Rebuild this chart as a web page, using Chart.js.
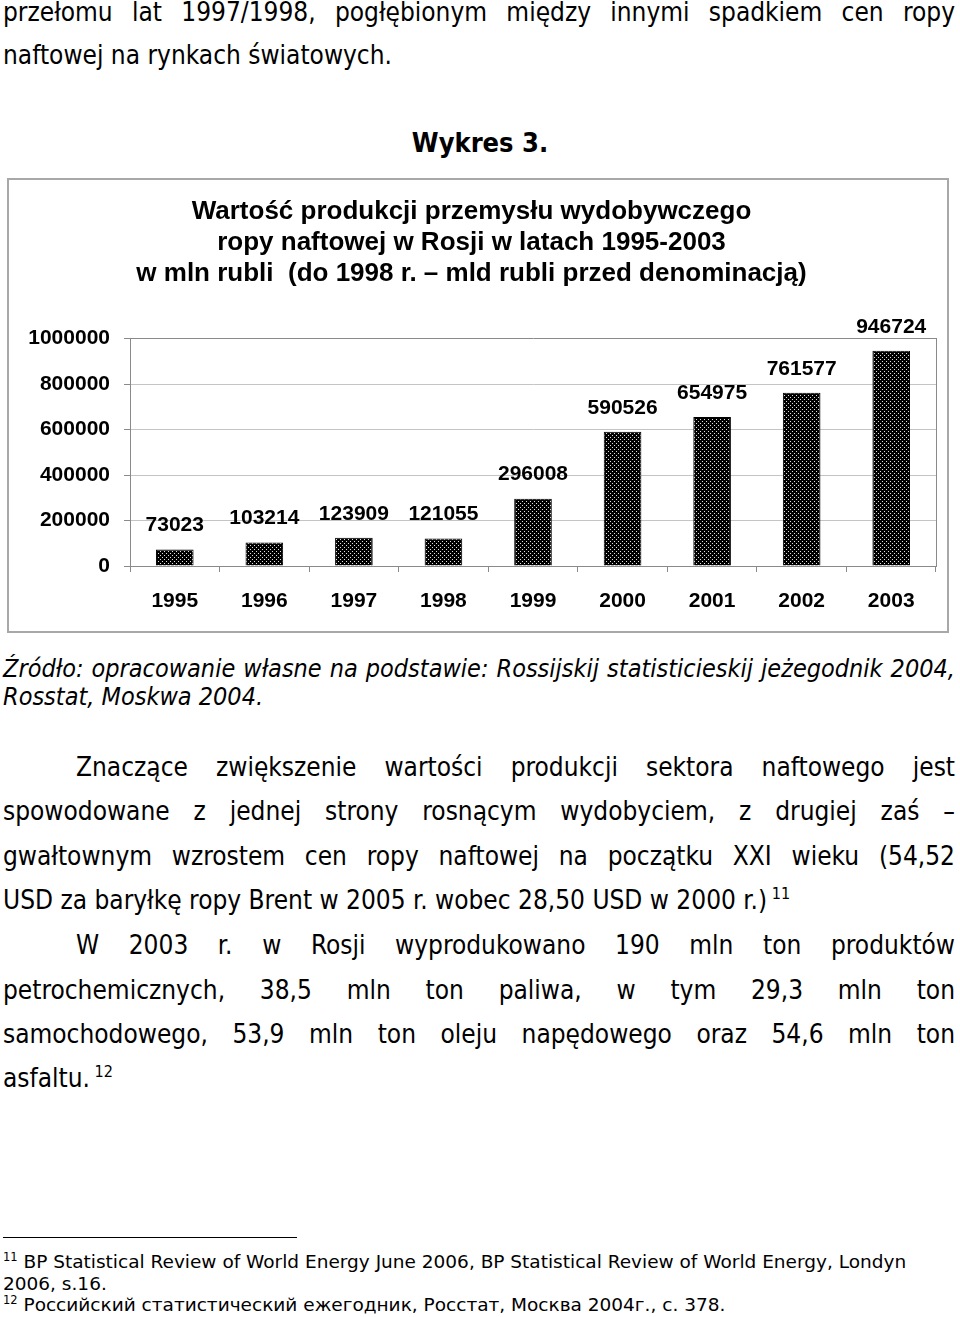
<!DOCTYPE html>
<html><head><meta charset="utf-8">
<script src="https://cdn.jsdelivr.net/npm/chart.js@4"></script>
<style>
html,body{margin:0;padding:0;background:#fff}
body{width:960px;height:1317px;position:relative;overflow:hidden;font-family:'DejaVu Sans Condensed','DejaVu Sans',sans-serif;color:#000}
.l{position:absolute;left:3px;width:952px;white-space:nowrap;font-size:26px;line-height:30px}
.j{text-align:justify;text-align-last:justify;white-space:normal}
.src{font-style:italic;font-size:25px;line-height:30px}
.fn{font-family:'DejaVu Sans',sans-serif;font-size:18.5px;line-height:22px}
sup{font-size:0.62em;vertical-align:0;position:relative;top:-0.6em}
#frame{position:absolute;left:7px;top:178px;width:942px;height:455px;border:2px solid #a8a8a8;box-sizing:border-box}
#cv{position:absolute;left:7px;top:178px}
#rule{position:absolute;left:3px;top:1237px;width:294px;height:0;border-top:1.5px solid #000}
</style>
</head><body>
<div class="l j" style="top:-3px">przełomu lat 1997/1998, pogłębionym między innymi spadkiem cen ropy</div>
<div class="l" style="top:40px">naftowej na rynkach światowych.</div>
<div class="l" style="top:128px;text-align:center;font-weight:bold;left:0;width:960px;font-size:27px">Wykres 3.</div>
<div id="frame"></div>
<canvas id="cv" width="942" height="455"></canvas>
<div class="l src j" style="top:654px">Źródło: opracowanie własne na podstawie: Rossijskij statisticieskij jeżegodnik 2004,</div>
<div class="l src" style="top:682px">Rosstat, Moskwa 2004.</div>
<div class="l j" style="top:752px;left:76px;width:879px">Znaczące zwiększenie wartości produkcji sektora naftowego jest</div>
<div class="l j" style="top:796px">spowodowane z jednej strony rosnącym wydobyciem, z drugiej zaś –</div>
<div class="l j" style="top:841px">gwałtownym wzrostem cen ropy naftowej na początku XXI wieku (54,52</div>
<div class="l" style="top:885px">USD za baryłkę ropy Brent w 2005 r. wobec 28,50 USD w 2000 r.)<sup> 11</sup></div>
<div class="l j" style="top:930px;left:76px;width:879px">W 2003 r. w Rosji wyprodukowano 190 mln ton produktów</div>
<div class="l j" style="top:975px">petrochemicznych, 38,5 mln ton paliwa, w tym 29,3 mln ton</div>
<div class="l j" style="top:1019px">samochodowego, 53,9 mln ton oleju napędowego oraz 54,6 mln ton</div>
<div class="l" style="top:1063px">asfaltu.<sup> 12</sup></div>
<div id="rule"></div>
<div class="l fn" style="top:1251px"><sup>11</sup> BP Statistical Review of World Energy June 2006, BP Statistical Review of World Energy, Londyn</div>
<div class="l fn" style="top:1273px">2006, s.16.</div>
<div class="l fn" style="top:1294px"><sup>12</sup> Российский статистический ежегодник, Росстат, Москва 2004г., с. 378.</div>
<script>
const categories = ['1995','1996','1997','1998','1999','2000','2001','2002','2003'];
const values = [73023, 103214, 123909, 121055, 296008, 590526, 654975, 761577, 946724];
const yTicks = [0, 200000, 400000, 600000, 800000, 1000000];
const titleLines = [
  'Wartość produkcji przemysłu wydobywczego',
  'ropy naftowej w Rosji w latach 1995-2003',
  'w mln rubli  (do 1998 r. – mld rubli przed denominacją)'
];

const canvas = document.getElementById('cv');
const ctx = canvas.getContext('2d');
const pc = document.createElement('canvas');
pc.width = 4; pc.height = 4;
const px = pc.getContext('2d');
px.fillStyle = '#000'; px.fillRect(0,0,4,4);
px.fillStyle = '#e0e0e0'; px.fillRect(1,1,1,1); px.fillRect(3,3,1,1);
const pattern = ctx.createPattern(pc, 'repeat');

const AXIS = '#8a8a8a';
const GRID = '#c4c4c4';
const FONT = "'Liberation Sans', Arial, sans-serif";

const valueLabels = {
  id: 'valueLabels',
  afterDatasetsDraw(chart) {
    const c = chart.ctx;
    const meta = chart.getDatasetMeta(0);
    c.save();
    c.font = 'bold 21px ' + FONT;
    c.fillStyle = '#000';
    c.textAlign = 'center';
    c.textBaseline = 'middle';
    meta.data.forEach((bar, i) => {
      c.fillText(String(chart.data.datasets[0].data[i]), bar.x, bar.y - 24);
    });
    c.restore();
  }
};

new Chart(ctx, {
  type: 'bar',
  data: {
    labels: categories,
    datasets: [{
      data: values,
      backgroundColor: pattern,
      borderColor: '#000',
      borderWidth: 1,
      categoryPercentage: 1,
      barPercentage: 0.42
    }]
  },
  options: {
    responsive: false,
    animation: false,
    devicePixelRatio: 1,
    layout: { padding: { left: 0, right: 13, top: 0, bottom: 0 } },
    plugins: {
      legend: { display: false },
      tooltip: { enabled: false },
      title: {
        display: true,
        text: titleLines,
        color: '#000',
        font: { family: FONT, size: 26, weight: 'bold', lineHeight: 1.2 },
        padding: { top: 18, bottom: 49 }
      }
    },
    scales: {
      x: {
        grid: { drawOnChartArea: false, drawTicks: true, tickLength: 6, color: AXIS, offset: true },
        border: { color: AXIS, width: 1 },
        ticks: { color: '#000', font: { family: FONT, size: 21, weight: 'bold' }, padding: 17 },
        afterFit(s) { s.height = 67; }
      },
      y: {
        min: 0, max: 1000000,
        afterBuildTicks(s) { s.ticks = yTicks.map(v => ({ value: v })); },
        grid: {
          color: (c) => (c.tick && c.tick.value === 1000000) ? AXIS : GRID,
          tickColor: AXIS, tickLength: 6, lineWidth: 1
        },
        border: { color: AXIS, width: 1 },
        ticks: { color: '#000', font: { family: FONT, size: 21, weight: 'bold' }, padding: 14, callback: (v) => String(v) },
        afterFit(s) { s.width = 123; }
      },
      y2: {
        position: 'right', min: 0, max: 1,
        ticks: { display: false },
        grid: { drawOnChartArea: false, drawTicks: false },
        border: { color: AXIS, width: 1 },
        afterFit(s) { s.width = 0; }
      }
    }
  },
  plugins: [valueLabels]
});
</script>
</body></html>
